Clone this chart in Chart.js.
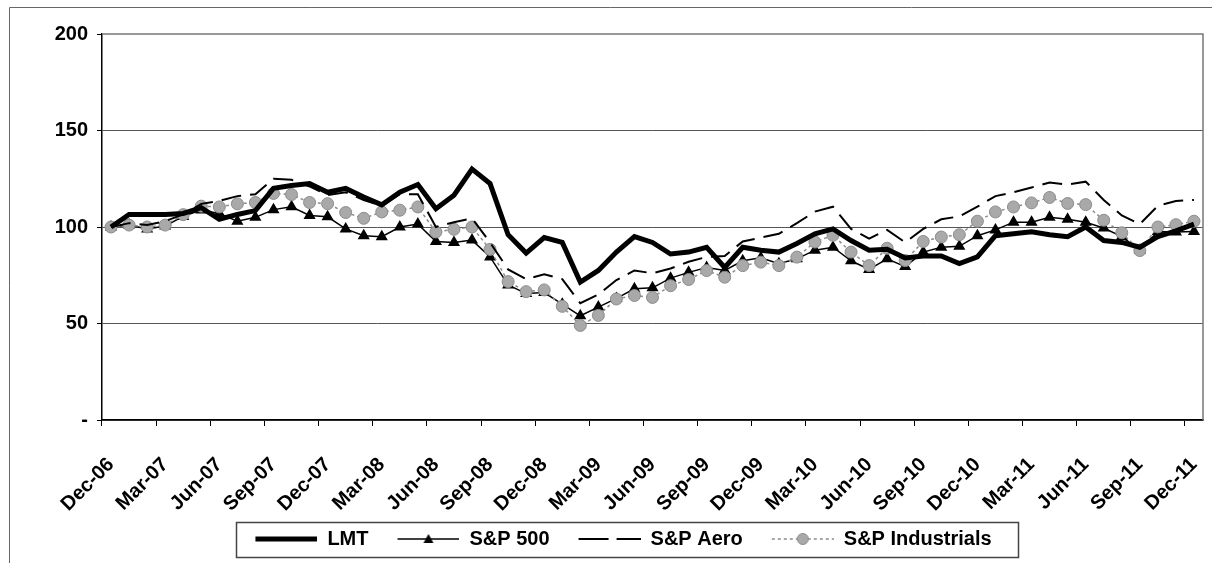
<!DOCTYPE html>
<html>
<head>
<meta charset="utf-8">
<title>Five-year cumulative return</title>
<script src="https://cdn.jsdelivr.net/npm/chart.js@4.4.1/dist/chart.umd.min.js"></script>
<style>
  html, body { margin: 0; padding: 0; background: #fff; }
  #wrap { width: 1212px; height: 563px; }
</style>
</head>
<body>
<div id="wrap"><canvas id="perf-chart" width="1212" height="563"></canvas></div>
<script>
// 1. Data (monthly, Dec-06 = 100)
const months = [
    'Dec-06', 'Jan-07', 'Feb-07', 'Mar-07', 'Apr-07', 'May-07', 'Jun-07', 'Jul-07', 'Aug-07', 'Sep-07', 'Oct-07', 'Nov-07',
    'Dec-07', 'Jan-08', 'Feb-08', 'Mar-08', 'Apr-08', 'May-08', 'Jun-08', 'Jul-08', 'Aug-08', 'Sep-08', 'Oct-08', 'Nov-08',
    'Dec-08', 'Jan-09', 'Feb-09', 'Mar-09', 'Apr-09', 'May-09', 'Jun-09', 'Jul-09', 'Aug-09', 'Sep-09', 'Oct-09', 'Nov-09',
    'Dec-09', 'Jan-10', 'Feb-10', 'Mar-10', 'Apr-10', 'May-10', 'Jun-10', 'Jul-10', 'Aug-10', 'Sep-10', 'Oct-10', 'Nov-10',
    'Dec-10', 'Jan-11', 'Feb-11', 'Mar-11', 'Apr-11', 'May-11', 'Jun-11', 'Jul-11', 'Aug-11', 'Sep-11', 'Oct-11', 'Nov-11',
    'Dec-11'
];

const lmtValues = [
    100, 106.5, 106.5, 106.5, 107, 110, 104, 106.5, 108.5, 120,
    121.5, 122.5, 118, 120, 115.5, 111.5, 118, 122, 109.5, 116.5,
    130, 122.5, 96, 86.5, 94.5, 92, 71.5, 77.5, 87, 95,
    92, 86, 87, 89.5, 79, 89.5, 88, 87, 91.5, 96.5,
    99, 93, 88, 88.5, 84, 85, 85, 81, 84.5, 95.5,
    96.5, 97.5, 96, 95, 100, 93, 92, 89.5, 95, 98,
    101.5
];

const sp500Values = [
    100, 101, 99, 100.5, 105.5, 108.8, 107, 103, 105, 109,
    110.5, 106, 105.3, 99, 95.5, 95, 100, 101.5, 92.5, 92,
    93.2, 84.5, 70, 65.5, 66, 60, 54, 58.5, 63, 68,
    68.5, 73.5, 76.5, 79, 77.5, 82.5, 84, 81, 83.5, 88,
    89.5, 82.5, 78, 83.5, 79.5, 87, 89.5, 90, 95.5, 98.5,
    102.5, 102.5, 105, 104, 102.5, 99.5, 95, 88, 97.7, 97.4,
    97.7
];

const aeroValues = [
    100, 102, 101, 103, 106.5, 112, 113.5, 116, 117, 125,
    124.5, 121, 116.5, 118, 114, 111, 117, 117, 100, 102.5,
    104.5, 92, 78, 73, 75.5, 73, 60.5, 65, 72.5, 77.5,
    76, 78.5, 82, 84.5, 85, 92.5, 94.5, 96.5, 102, 108,
    110.5, 99, 94, 98.5, 92, 99, 104, 105.5, 110.5, 116,
    118, 120.5, 123, 122, 123.5, 114, 106, 101.5, 111, 113.5,
    114
];

const industrialsValues = [
    100, 101, 100, 101, 106.4, 110.8, 110.4, 112, 112.7, 117.4,
    116.8, 112.7, 112.1, 107.5, 104.5, 107.8, 108.7, 110.4, 97.4, 98.8,
    100, 88.4, 71.7, 66.5, 67.4, 58.9, 49, 54.2, 62.7, 64.5,
    63.5, 69.6, 72.8, 77.4, 74, 80, 81.8, 80, 84.4, 92.2,
    95.7, 87, 80, 89, 82.6, 92.5, 94.8, 96, 103, 107.8,
    110.4, 112.5, 115.3, 112.2, 111.6, 103.5, 97, 87.8, 100, 101.2,
    103
];

const seriesNames = ['LMT', 'S&P 500', 'S&P Aero', 'S&P Industrials'];
const yTickValues = [0, 50, 100, 150, 200];
const labelEvery = 3; // one label per quarter

// 2. Look & layout
const FONT = { family: 'Arial, "Liberation Sans", sans-serif', size: 20, weight: 'bold' };
const GRAY_FILL = '#a9a9a9';
const GRAY_LINE = '#8c8c8c';
const legendShift = 12;   // legend sits a bit right of centre in the original
const sampleMargin = 20;  // blank space in front of each legend sample
const sampleLen = 62;

// small canvases used as legend samples (line + marker)
function makeSample(drawFn) {
    const c = document.createElement('canvas');
    c.width = sampleMargin + sampleLen;
    c.height = 16;
    const ctx = c.getContext('2d');
    drawFn(ctx, sampleMargin, sampleMargin + sampleLen, 8);
    return c;
}

const legendSamples = [
    makeSample((ctx, x0, x1, y) => {
        ctx.strokeStyle = '#000'; ctx.lineWidth = 5;
        ctx.beginPath(); ctx.moveTo(x0, y); ctx.lineTo(x1, y); ctx.stroke();
    }),
    makeSample((ctx, x0, x1, y) => {
        ctx.strokeStyle = '#000'; ctx.lineWidth = 1.5;
        ctx.beginPath(); ctx.moveTo(x0, y); ctx.lineTo(x1, y); ctx.stroke();
        const cx = (x0 + x1) / 2;
        ctx.fillStyle = '#000';
        ctx.beginPath(); ctx.moveTo(cx, y - 5); ctx.lineTo(cx + 5, y + 4); ctx.lineTo(cx - 5, y + 4); ctx.closePath(); ctx.fill();
    }),
    makeSample((ctx, x0, x1, y) => {
        ctx.strokeStyle = '#000'; ctx.lineWidth = 2;
        ctx.setLineDash([30, 8]);
        ctx.beginPath(); ctx.moveTo(x0, y); ctx.lineTo(x1, y); ctx.stroke();
    }),
    makeSample((ctx, x0, x1, y) => {
        ctx.strokeStyle = GRAY_LINE; ctx.lineWidth = 1.5;
        ctx.setLineDash([3, 3]);
        ctx.beginPath(); ctx.moveTo(x0, y); ctx.lineTo(x1, y); ctx.stroke();
        ctx.setLineDash([]);
        ctx.fillStyle = GRAY_FILL; ctx.strokeStyle = GRAY_LINE; ctx.lineWidth = 1;
        ctx.beginPath(); ctx.arc((x0 + x1) / 2, y, 5.5, 0, Math.PI * 2); ctx.fill(); ctx.stroke();
    })
];

// 3. Decorations: outer frame, plot border, legend box
const framePlugin = {
    id: 'frame',
    afterLayout(chart) {
        chart.legend.left += legendShift;
        chart.legend.right += legendShift;
    },
    beforeDraw(chart) {
        const ctx = chart.ctx;
        ctx.save();
        ctx.strokeStyle = '#666';
        ctx.lineWidth = 1;
        ctx.beginPath();
        ctx.moveTo(9.5, chart.height);
        ctx.lineTo(9.5, 7.5);
        ctx.lineTo(chart.width, 7.5);
        ctx.stroke();
        ctx.restore();
    },
    beforeDatasetsDraw(chart) {
        const { ctx, chartArea: a } = chart;
        ctx.save();
        ctx.strokeStyle = '#777';
        ctx.lineWidth = 1.5;
        ctx.beginPath();
        ctx.moveTo(a.left, a.top);
        ctx.lineTo(a.right, a.top);
        ctx.lineTo(a.right, a.bottom);
        ctx.stroke();
        ctx.restore();
    },
    afterDraw(chart) {
        const boxes = chart.legend.legendHitBoxes;
        if (!boxes || !boxes.length) return;
        const first = boxes[0];
        const last = boxes[boxes.length - 1];
        const midY = first.top + first.height / 2;
        const left = first.left + sampleMargin - 19;
        const right = last.left + last.width + 27;
        const ctx = chart.ctx;
        ctx.save();
        ctx.strokeStyle = '#444';
        ctx.lineWidth = 1.5;
        ctx.strokeRect(Math.round(left) + 0.5, Math.round(midY - 17.5) + 0.5, Math.round(right - left), 35);
        ctx.restore();
    }
};

// 4. Build the chart
const ctx = document.getElementById('perf-chart').getContext('2d');

new Chart(ctx, {
    type: 'line',
    data: {
        labels: months,
        datasets: [
            {
                label: seriesNames[0],
                data: lmtValues,
                borderColor: '#000',
                borderWidth: 5,
                pointRadius: 0,
                order: 0
            },
            {
                label: seriesNames[1],
                data: sp500Values,
                borderColor: '#000',
                borderWidth: 1.5,
                pointStyle: 'triangle',
                pointRadius: 5.5,
                pointBackgroundColor: '#000',
                pointBorderColor: '#000',
                order: 3
            },
            {
                label: seriesNames[2],
                data: aeroValues,
                borderColor: '#000',
                borderWidth: 2,
                borderDash: [20, 9],
                pointRadius: 0,
                order: 1
            },
            {
                label: seriesNames[3],
                data: industrialsValues,
                borderColor: GRAY_LINE,
                borderWidth: 1.5,
                borderDash: [3, 3],
                pointStyle: 'circle',
                pointRadius: 6,
                pointBackgroundColor: GRAY_FILL,
                pointBorderColor: GRAY_LINE,
                pointBorderWidth: 1,
                order: 2
            }
        ]
    },
    options: {
        responsive: false,
        animation: false,
        devicePixelRatio: 1,
        layout: { padding: { top: 34, right: 9, bottom: 4, left: 0 } },
        plugins: {
            tooltip: { enabled: false },
            legend: {
                position: 'bottom',
                labels: {
                    usePointStyle: true,
                    pointStyleWidth: sampleMargin + sampleLen,
                    padding: 9,
                    color: '#000',
                    font: FONT,
                    sort: (a, b) => a.datasetIndex - b.datasetIndex,
                    generateLabels(chart) {
                        const items = Chart.defaults.plugins.legend.labels.generateLabels(chart);
                        items.forEach(item => { item.pointStyle = legendSamples[item.datasetIndex]; });
                        return items;
                    }
                }
            }
        },
        scales: {
            x: {
                offset: true,
                afterFit(scale) {
                    // fixed axis height; rotated labels need no side room here
                    scale.height = 100;
                    scale.paddingLeft = 0;
                    scale.paddingRight = 0;
                },
                border: { display: true, color: '#000', width: 1.5 },
                grid: {
                    offset: true,
                    drawOnChartArea: false,
                    drawTicks: true,
                    tickLength: 6,
                    tickColor: c => (c.index % labelEvery === 0 ? '#000' : 'rgba(0,0,0,0)')
                },
                ticks: {
                    autoSkip: false,
                    minRotation: 45,
                    maxRotation: 45,
                    padding: 27,
                    color: '#000',
                    font: FONT,
                    callback(value, index) {
                        return index % labelEvery === 0 ? this.getLabelForValue(value) : '';
                    }
                }
            },
            y: {
                min: 0,
                max: 200,
                afterFit(scale) { scale.width = 102; },
                afterBuildTicks(scale) {
                    scale.ticks = yTickValues.map(v => ({ value: v }));
                },
                border: { display: true, color: '#000', width: 1.5 },
                grid: {
                    color: c => (c.tick && c.tick.value === 200 ? 'rgba(0,0,0,0)' : '#555'),
                    lineWidth: 1,
                    tickLength: 5,
                    tickColor: '#000'
                },
                ticks: {
                    padding: 9,
                    color: '#000',
                    font: FONT,
                    callback: v => (v === 0 ? '-' : v)
                }
            }
        }
    },
    plugins: [framePlugin]
});
</script>
</body>
</html>
